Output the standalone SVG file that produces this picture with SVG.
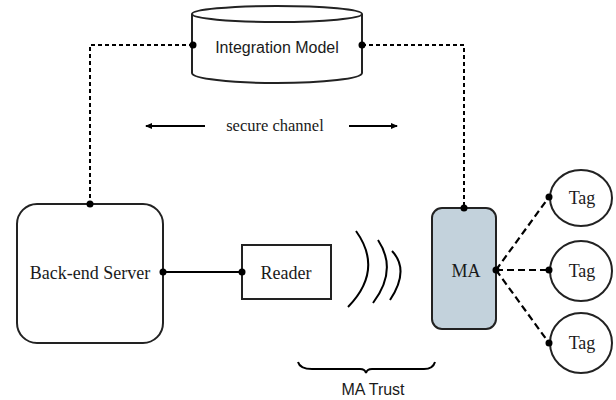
<svg xmlns="http://www.w3.org/2000/svg" width="616" height="400" viewBox="0 0 616 400">
<style>
.ln{fill:none;stroke:#000;stroke-width:2}
.dash{fill:none;stroke:#000;stroke-width:2;stroke-dasharray:4,3}
.dash2{fill:none;stroke:#000;stroke-width:2.2;stroke-dasharray:7,4}
.shape{fill:#fff;stroke:#222;stroke-width:2}
.serif{font-family:"Liberation Serif",serif;font-size:18px;fill:#1a1a1a}
.small{font-size:16.5px}
.sans{font-family:"Liberation Sans",Arial,sans-serif;font-size:16px;fill:#1a1a1a}
.dot{fill:#000}
</style>
<defs>
<marker id="ah" markerWidth="8" markerHeight="8" refX="6" refY="4" orient="auto" markerUnits="userSpaceOnUse">
<path d="M0,1 L7,4 L0,7 Z" fill="#000"/>
</marker>
</defs>
<g id="connectors">
<path class="dash" d="M193,45 H90 V204"/>
<path class="dash" d="M362,45 H464 V208"/>
<path class="ln" d="M163,272 H242"/>
<path class="dash2" d="M496,270 L549,197"/>
<path class="dash2" d="M496,270 L549,270"/>
<path class="dash2" d="M496,270 L549,343"/>
<path class="ln" d="M205,126 H146" marker-end="url(#ah)"/>
<path class="ln" d="M349,126 H397" marker-end="url(#ah)"/>
</g>
<g id="integration-model">
<path class="shape" d="M192,14 V73 A85,10 0 0 0 362,73 V14"/>
<ellipse class="shape" cx="277" cy="14" rx="85" ry="8"/>
<text class="sans" x="277" y="53" text-anchor="middle">Integration Model</text>
</g>
<g id="backend-server">
<rect class="shape" x="17" y="204" width="146" height="139" rx="20"/>
<text class="serif" x="90" y="279" text-anchor="middle">Back-end Server</text>
</g>
<g id="reader">
<rect class="shape" x="242" y="245" width="89" height="54"/>
<text class="serif" x="286" y="279" text-anchor="middle">Reader</text>
</g>
<g id="waves">
<path class="ln" stroke-width="1.6" d="M348,307 Q384,270 356,231"/>
<path class="ln" stroke-width="1.6" d="M373,303 Q398,270 378,240"/>
<path class="ln" stroke-width="1.6" d="M390,300 Q410,270 392,251"/>
</g>
<g id="ma">
<rect x="432" y="208" width="64" height="121" rx="10" fill="#c3d2dc" stroke="#222" stroke-width="2"/>
<text class="serif" x="466" y="277" text-anchor="middle">MA</text>
</g>
<g id="tag1">
<ellipse class="shape" cx="581" cy="198" rx="31" ry="28"/>
<text class="serif" x="582" y="204" text-anchor="middle">Tag</text>
</g>
<g id="tag2">
<ellipse class="shape" cx="581" cy="271" rx="31" ry="30"/>
<text class="serif" x="582" y="277" text-anchor="middle">Tag</text>
</g>
<g id="tag3">
<ellipse class="shape" cx="581" cy="343" rx="31" ry="30"/>
<text class="serif" x="582" y="349" text-anchor="middle">Tag</text>
</g>
<g id="dots">
<circle class="dot" cx="193" cy="45" r="3.5"/>
<circle class="dot" cx="362" cy="45" r="3.5"/>
<circle class="dot" cx="90" cy="204" r="3.5"/>
<circle class="dot" cx="464" cy="208" r="3.5"/>
<circle class="dot" cx="163" cy="272" r="3.5"/>
<circle class="dot" cx="242" cy="272" r="3.5"/>
<circle class="dot" cx="496" cy="270" r="3.5"/>
<circle class="dot" cx="549" cy="197" r="3.5"/>
<circle class="dot" cx="549" cy="270" r="3.5"/>
<circle class="dot" cx="549" cy="343" r="3.5"/>
</g>
<g id="label-secure">
<text class="serif small" x="275" y="131" text-anchor="middle">secure channel</text>
</g>
<g id="ma-trust">
<path class="ln" stroke-width="1.5" d="M298,362 Q300,369 312,369 H360 Q365,369 366,373 Q367,369 372,369 H424 Q433,369 435,362"/>
<text class="sans" x="373" y="395" text-anchor="middle">MA Trust</text>
</g>
</svg>
